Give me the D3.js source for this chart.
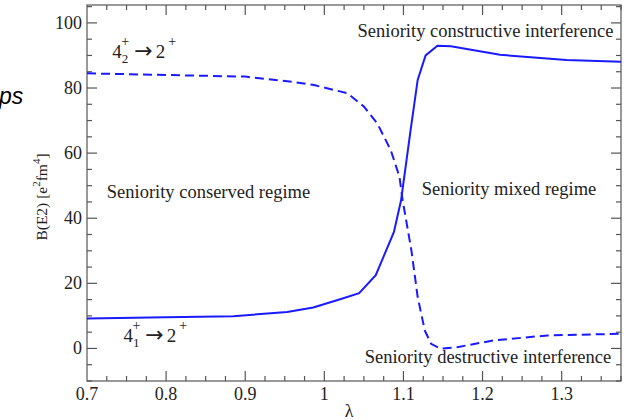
<!DOCTYPE html>
<html>
<head>
<meta charset="utf-8">
<script src="https://cdn.jsdelivr.net/npm/d3@7"></script>
<style>
  body { margin: 0; background: #fff; }
  svg { display: block; }
  text { font-family: "Liberation Serif", "DejaVu Serif", serif; fill: #222; }
</style>
</head>
<body>
<div id="app"></div>
<script>
// lambda values and B(E2) curves
const lambdaSolid = [0.7, 0.8, 0.885, 0.953, 0.986, 1.02, 1.044, 1.065, 1.088, 1.097, 1.109, 1.118, 1.128, 1.143, 1.16, 1.222, 1.306, 1.375];
const be2Solid = [9.2, 9.6, 9.9, 11.2, 12.6, 15.1, 17.0, 22.5, 35.8, 45.5, 67, 82.5, 90, 93, 92.8, 90.2, 88.6, 88.1];

const lambdaDashed = [0.7, 0.8, 0.9, 0.96, 0.987, 1.029, 1.05, 1.067, 1.084, 1.095, 1.099, 1.11, 1.118, 1.127, 1.135, 1.147, 1.168, 1.215, 1.282, 1.375];
const be2Dashed = [84.5, 84.0, 83.5, 81.9, 80.9, 78.4, 74.3, 69.1, 60.9, 52.7, 45.5, 30.2, 15.8, 5.5, 1.4, -0.1, 0.4, 2.5, 4.0, 4.5];

const xTicks = [0.7, 0.8, 0.9, 1, 1.1, 1.2, 1.3];
const xTickLabels = ["0.7", "0.8", "0.9", "1", "1.1", "1.2", "1.3"];
const yTicks = [0, 20, 40, 60, 80, 100];

// text notes placed in data coordinates [lambda, B(E2)]
const notes = [
  { x: 0.725, y: 46.2, text: "Seniority conserved regime" },
  { x: 1.042, y: 95.8, text: "Seniority constructive interference" },
  { x: 1.123, y: 47.2, text: "Seniority mixed regime" },
  { x: 1.051, y: -4.6, text: "Seniority destructive interference" }
];
const transitions = [
  { x: 0.732, y: 89.3, sub: "2" },
  { x: 0.746, y: 1.9, sub: "1" }
];

const W = 634, H = 420;
const margin = { left: 87, right: 13, top: 5, bottom: 39 };

const svg = d3.select("#app").append("svg").attr("width", W).attr("height", H);

const x = d3.scaleLinear().domain([0.7, 1.375]).range([margin.left, W - margin.right]);
const y = d3.scaleLinear().domain([-10, 105.5]).range([H - margin.bottom, margin.top]);

const axisColor = "#555";

// frame
svg.append("rect")
  .attr("x", x.range()[0]).attr("y", y.range()[1])
  .attr("width", x.range()[1] - x.range()[0])
  .attr("height", y.range()[0] - y.range()[1])
  .attr("fill", "none").attr("stroke", axisColor).attr("stroke-width", 1.2);

// inward ticks on all four sides
const xMinor = d3.range(0.725, 1.376, 0.025).filter((v) => !xTicks.some((t) => Math.abs(t - v) < 1e-6));
const yMinor = d3.range(-10, 106, 5).filter((v) => v % 20 !== 0);

const drawXTicks = (vals, len) => {
  [y.range()[0], y.range()[1]].forEach((yy, i) => {
    svg.append("g").selectAll("line").data(vals).enter().append("line")
      .attr("x1", (d) => x(d)).attr("x2", (d) => x(d))
      .attr("y1", yy).attr("y2", i === 0 ? yy - len : yy + len)
      .attr("stroke", axisColor).attr("stroke-width", 1.2);
  });
};
const drawYTicks = (vals, len) => {
  [x.range()[0], x.range()[1]].forEach((xx, i) => {
    svg.append("g").selectAll("line").data(vals).enter().append("line")
      .attr("y1", (d) => y(d)).attr("y2", (d) => y(d))
      .attr("x1", xx).attr("x2", i === 0 ? xx + len : xx - len)
      .attr("stroke", axisColor).attr("stroke-width", 1.2);
  });
};
drawXTicks(xTicks.slice(1), 10);
drawXTicks(xMinor, 5);
drawYTicks(yTicks, 10);
drawYTicks(yMinor, 5);

// tick labels
svg.append("g").selectAll("text").data(xTicks).enter().append("text")
  .attr("x", (d) => x(d)).attr("y", y.range()[0] + 19)
  .attr("text-anchor", "middle").attr("font-size", 18)
  .text((d, i) => xTickLabels[i]);
svg.append("g").selectAll("text").data(yTicks).enter().append("text")
  .attr("x", x.range()[0] - 5).attr("y", (d) => y(d) + 6)
  .attr("text-anchor", "end").attr("font-size", 18)
  .text((d) => d);

// axis titles
svg.append("text")
  .attr("x", (x.range()[0] + x.range()[1]) / 2 - 5).attr("y", 417)
  .attr("text-anchor", "middle").attr("font-size", 18).text("λ");

const yl = svg.append("text")
  .attr("transform", "translate(47,197) rotate(-90)")
  .attr("text-anchor", "middle").attr("font-size", 15.5);
yl.append("tspan").text("B(E2) [e");
yl.append("tspan").attr("font-size", 11).attr("dy", -7).text("2");
yl.append("tspan").attr("dy", 7).text("fm");
yl.append("tspan").attr("font-size", 11).attr("dy", -7).text("4");
yl.append("tspan").attr("dy", 7).text("]");

// stray caption fragment at the left edge
svg.append("text")
  .attr("x", -1).attr("y", 104)
  .style("font-family", "Liberation Sans, Arial, sans-serif")
  .style("font-style", "italic").attr("font-size", 23).style("fill", "#000")
  .text("ps");

// curves
const line = d3.line().x((d) => x(d[0])).y((d) => y(d[1]));
const blue = "#1a1aff";
svg.append("path")
  .datum(d3.zip(lambdaDashed, be2Dashed))
  .attr("d", line).attr("fill", "none")
  .attr("stroke", blue).attr("stroke-width", 2).attr("stroke-dasharray", "9,5");
svg.append("path")
  .datum(d3.zip(lambdaSolid, be2Solid))
  .attr("d", line).attr("fill", "none")
  .attr("stroke", blue).attr("stroke-width", 2);

// notes
svg.append("g").selectAll("text").data(notes).enter().append("text")
  .attr("x", (d) => x(d.x)).attr("y", (d) => y(d.y))
  .attr("font-size", 18.5).text((d) => d.text);

transitions.forEach((t) => {
  const tx = svg.append("text").attr("x", x(t.x)).attr("y", y(t.y)).attr("font-size", 19);
  tx.append("tspan").text("4");
  tx.append("tspan").attr("font-size", 13).attr("dy", 5).text(t.sub);
  tx.append("tspan").attr("font-size", 14).attr("dx", -7).attr("dy", -17).text("+");
  tx.append("tspan").attr("dy", 12).attr("dx", 5)
    .style("font-family", "DejaVu Sans, sans-serif").attr("font-size", 22).text("→");
  tx.append("tspan").attr("dx", 3).text("2");
  tx.append("tspan").attr("font-size", 14).attr("dy", -12).attr("dx", 3).text("+");
});
</script>
</body>
</html>
